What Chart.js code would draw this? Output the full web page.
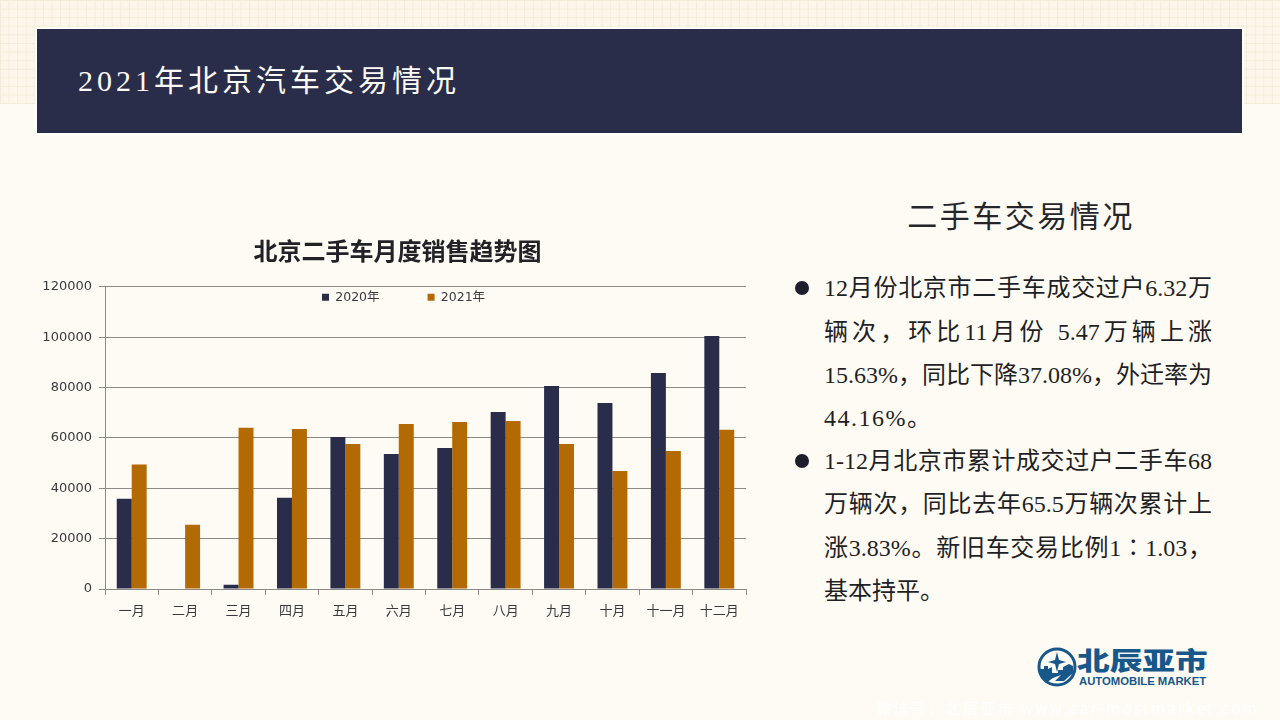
<!DOCTYPE html>
<html>
<head>
<meta charset="utf-8">
<script src="https://cdn.jsdelivr.net/npm/chart.js@4"></script>
<style>
  html, body { margin: 0; padding: 0; }
  body { width: 1280px; height: 720px; overflow: hidden; position: relative; background: #fefbf5; color: #1f1f24; font-family: "Liberation Serif", "Noto Sans CJK SC", serif; }
  .pattern { position: absolute; left: 0; top: 0; width: 1280px; height: 104px; background-color: #fcf7ea;
    background-image: linear-gradient(#f3ecda 1px, transparent 1px), linear-gradient(90deg, #f3ecda 1px, transparent 1px);
    background-size: 8.6px 8.6px; }
  .banner { position: absolute; left: 37px; top: 29px; width: 1205px; height: 104px; background: #2a2d49; box-shadow: 0 0 0 2px #fffdf9; }
  .banner h1 { position: absolute; left: 41px; top: 30px; margin: 0; font-size: 30px; line-height: 44px; font-weight: normal; letter-spacing: 4px; color: #fbfaf5; white-space: nowrap; }
  #chartBox { position: absolute; left: 30px; top: 230px; width: 734px; height: 400px; }
  h2 { position: absolute; left: 821px; top: 195px; width: 400px; margin: 0; text-align: center; font-size: 30px; line-height: 44px; font-weight: normal; letter-spacing: 2.5px; color: #26262a; }
  .line { position: absolute; left: 824px; width: 388px; font-size: 24px; line-height: 34px; height: 34px; white-space: nowrap; }
  .just { white-space: normal; text-align: justify; text-align-last: justify; }
  .dot { position: absolute; left: 795px; width: 14px; height: 14px; border-radius: 50%; background: #1d1d2b; }
  .logo { position: absolute; left: 1036px; top: 646px; width: 176px; height: 44px; color: #17578a; font-family: "Noto Sans CJK SC", sans-serif; }
  .logo svg { position: absolute; left: 0; top: 0; }
  .logo .cn { position: absolute; left: 41px; top: 0; font-size: 32px; line-height: 34px; font-weight: 900; white-space: nowrap; transform-origin: left top; transform: scale(1.02, 0.78); }
  .logo .en { position: absolute; left: 43px; top: 29px; font-family: "Liberation Sans", sans-serif; font-size: 11.3px; line-height: 13px; font-weight: bold; white-space: nowrap; }
  .mark { position: absolute; left: 876px; top: 698px; width: 386px; font-size: 15px; line-height: 20px; letter-spacing: 2.4px; color: #ffffff; white-space: nowrap; font-family: "Noto Sans CJK SC", sans-serif; }
</style>
</head>
<body>
<div class="pattern"></div>
<div class="banner"><h1>2021年北京汽车交易情况</h1></div>
<div id="chartBox"><canvas id="salesChart" width="734" height="400"></canvas></div>
<h2>二手车交易情况</h2>
<div class="dot" style="top:281px"></div>
<div class="line just" style="top:271px">12月份北京市二手车成交过户6.32万</div>
<div class="line just" style="top:315px">辆次，环比11月份 5.47万辆上涨</div>
<div class="line just" style="top:358px">15.63%，同比下降37.08%，外迁率为</div>
<div class="line" style="top:401px;letter-spacing:1.5px">44.16%。</div>
<div class="dot" style="top:454px"></div>
<div class="line just" style="top:444px">1-12月北京市累计成交过户二手车68</div>
<div class="line just" style="top:487px">万辆次，同比去年65.5万辆次累计上</div>
<div class="line just" style="top:531px">涨3.83%。新旧车交易比例1∶1.03，</div>
<div class="line" style="top:574px">基本持平。</div>
<div class="logo">
  <svg width="42" height="42" viewBox="0 0 42 42">
    <circle cx="21" cy="21" r="18" fill="none" stroke="#17578a" stroke-width="3"/>
    <path d="M21 6 L23 14 L30 16 L23 18 L21 26 L19 18 L12 16 L19 14 Z" fill="#17578a"/>
    <path d="M4 28 L4 23 L8 23 L8 20 L12 20 L12 23 L16 21 L16 27 L22 27 L22 24 L27 24 L27 21 L33 18 L37 20 L37 27 L28 35 L19 35 L25 29 L17 32 L10 37 Z" fill="#17578a"/>
  </svg>
  <div class="cn">北辰亚市</div>
  <div class="en">AUTOMOBILE MARKET</div>
</div>
<div class="mark">微信号：北辰亚市 www.car-mostmarket.com</div>

<script>
const months = ["一月", "二月", "三月", "四月", "五月", "六月", "七月", "八月", "九月", "十月", "十一月", "十二月"];
const sales2020 = [35800, null, 1700, 36200, 60400, 53600, 56000, 70300, 80600, 73900, 85800, 100500];
const sales2021 = [49400, 25500, 64000, 63500, 57600, 65500, 66300, 66700, 57600, 46900, 54800, 63200];
const yTicks = [0, 20000, 40000, 60000, 80000, 100000, 120000];

const lineColor = "#8b8a86";
const tickFont = { family: "'DejaVu Sans', 'Noto Sans CJK SC'", size: 13 };
const legendFont = { family: "'DejaVu Sans', 'Noto Sans CJK SC'", size: 12.5 };

// legend sits inside the plot: takes no room in the layout, then gets moved under the top gridline
const legendInPlot = {
  id: "legendInPlot",
  beforeLayout(chart) {
    const lg = chart.legend;
    if (lg.fitWrapped) return;
    const fit = lg.fit;
    lg.fit = function () {
      fit.call(this);
      this.height = 0;
    };
    lg.fitWrapped = true;
  },
  afterLayout(chart) {
    const lg = chart.legend;
    lg.left = 244;
    lg.right = 600;
    lg.top = 13;
    lg.bottom = 100;
    // title is centred a bit right of the layout box in the original
    chart.titleBlock.left += 9.5;
    chart.titleBlock.right += 9.5;
  }
};

new Chart(document.getElementById("salesChart"), {
  type: "bar",
  plugins: [legendInPlot],
  data: {
    labels: months,
    datasets: [
      { label: "2020年", data: sales2020, backgroundColor: "#2a2d49", barPercentage: 1, categoryPercentage: 0.56 },
      { label: "2021年", data: sales2021, backgroundColor: "#b36a03", barPercentage: 1, categoryPercentage: 0.56 }
    ]
  },
  options: {
    responsive: false,
    animation: false,
    layout: { padding: { right: 18 } },
    plugins: {
      title: {
        display: true,
        text: "北京二手车月度销售趋势图",
        color: "#222226",
        font: { family: "'Noto Sans CJK SC'", size: 24, weight: "bold" },
        padding: { top: 6, bottom: 22 }
      },
      legend: {
        position: "top",
        align: "start",
        labels: { boxWidth: 7, boxHeight: 7, padding: 48, color: "#3a3a3e", font: legendFont }
      },
      tooltip: { enabled: false }
    },
    scales: {
      x: {
        grid: { drawOnChartArea: false, color: lineColor, tickLength: 6 },
        border: { color: lineColor },
        ticks: { color: "#3a3a3e", font: tickFont, maxRotation: 0, autoSkip: false, padding: 9 },
        afterFit(scale) { scale.height = 41; }
      },
      y: {
        min: 0,
        max: 120000,
        afterBuildTicks(scale) { scale.ticks = yTicks.map(v => ({ value: v })); },
        grid: { color: lineColor, tickLength: 6 },
        border: { color: lineColor },
        ticks: { color: "#3a3a3e", font: tickFont, padding: 7, callback: v => String(v) },
        afterFit(scale) { scale.width = 75; }
      }
    }
  }
});
</script>
</body>
</html>
